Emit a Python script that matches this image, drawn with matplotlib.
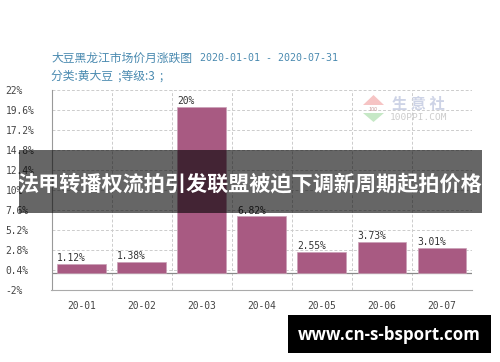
import matplotlib
matplotlib.use('Agg')
import matplotlib.pyplot as plt
from matplotlib.patches import Rectangle, Polygon

plt.rcParams['font.family'] = ['Noto Sans CJK SC', 'DejaVu Sans']

months = ['20-01', '20-02', '20-03', '20-04', '20-05', '20-06', '20-07']
values = [1.12, 1.38, 20, 6.82, 2.55, 3.73, 3.01]
value_labels = ['1.12%', '1.38%', '20%', '6.82%', '2.55%', '3.73%', '3.01%']
y_ticks = [-2, 0.4, 2.8, 5.2, 7.6, 10, 12.4, 14.8, 17.2, 19.6, 22]
y_labels = ['-2%', '0.4%', '2.8%', '5.2%', '7.6%', '10%', '12.4%', '14.8%', '17.2%', '19.6%', '22%']

W, H = 500, 362
mono = 'DejaVu Sans Mono'

fig = plt.figure(figsize=(W / 100, H / 100), dpi=100)
ax = fig.add_axes([51.5 / W, 1 - 290 / H, 420.5 / W, 200 / H])

# bars
x = list(range(len(months)))
ax.bar(x, values, width=0.81, color='#a85a82', edgecolor='#c9a0b6', linewidth=0.5, zorder=3)
for i in x:
    ax.text(i - 0.41, values[i] + 0.1, value_labels[i], family=mono, fontsize=6.9,
            color='#333333', ha='left', va='bottom', zorder=4)

ax.set_xlim(-0.5, 6.5)
ax.set_ylim(-2, 22)
ax.set_yticks(y_ticks)
ax.set_yticklabels(y_labels, family=mono, fontsize=6.9, color='#444444', ha='left')
ax.set_xticks(x)
ax.set_xticklabels(months, family=mono, fontsize=6.9, color='#444444')
ax.tick_params(axis='y', length=0, pad=33)
ax.tick_params(axis='x', length=0, pad=8)

# grid
ax.grid(axis='y', color='#cccccc', linestyle=(0, (3, 2)), linewidth=0.7, zorder=1)
for i in range(1, 8):
    ax.axvline(i - 0.5, color='#cccccc', linestyle=(0, (3, 2)), linewidth=0.7, zorder=1)
ax.axhline(0, color='#888888', linewidth=0.9, zorder=2)
for s in ['top', 'right']:
    ax.spines[s].set_visible(False)
ax.spines['left'].set_color('#999999')
ax.spines['bottom'].set_color('#aaaaaa')

# titles
fig.text(51 / W, 1 - 58 / H, '大豆黑龙江市场价月涨跌图', fontsize=8.5, color='#4a8ab0', va='center')
fig.text(200 / W, 1 - 58 / H, '2020-01-01 - 2020-07-31', family=mono, fontsize=7.2, color='#4a8ab0', va='center')
fig.text(51 / W, 1 - 76 / H, '分类:黄大豆  ;等级:3  ;', fontsize=8.5, color='#4a8ab0', va='center')

# watermark
fig.add_artist(Polygon([[363 / W, 1 - 105 / H], [384 / W, 1 - 105 / H], [373.5 / W, 1 - 95 / H]],
                       closed=True, facecolor='#f6c4c4', linewidth=0, transform=fig.transFigure))
fig.add_artist(Polygon([[363 / W, 1 - 113 / H], [384 / W, 1 - 113 / H], [373.5 / W, 1 - 122 / H]],
                       closed=True, facecolor='#c6e8c6', linewidth=0, transform=fig.transFigure))
fig.text(373.5 / W, 1 - 109 / H, '100', fontsize=4, color='#c9a0a0', ha='center', va='center')
fig.text(392 / W, 1 - 104 / H, '生 意 社', fontsize=11, fontweight='bold', color='#cdd3e6', va='center')
fig.text(390 / W, 1 - 118 / H, '100PPI.COM', family=mono, fontsize=6.8, color='#cccccc', va='center')

# overlay banner
fig.add_artist(Rectangle((19 / W, 1 - 212.7 / H), 463 / W, 62.7 / H, facecolor='black', alpha=0.6, linewidth=0,
                         transform=fig.transFigure, zorder=5))
fig.text(250 / W, 1 - 184 / H, '法甲转播权流拍引发联盟被迫下调新周期起拍价格', fontsize=15.2, fontweight='bold',
         color='white', ha='center', va='center', zorder=6)

# site tag
fig.add_artist(Rectangle((288 / W, 1 - 353 / H), 203 / W, 38 / H, facecolor='black', linewidth=0,
                         transform=fig.transFigure, zorder=5))
fig.text(389.5 / W, 1 - 335 / H, 'www.cn-s-bsport.com', family='Open Sans', fontsize=12.2, fontweight='bold',
         color='white', ha='center', va='center', zorder=6)

fig.savefig('out.png', dpi=100)
